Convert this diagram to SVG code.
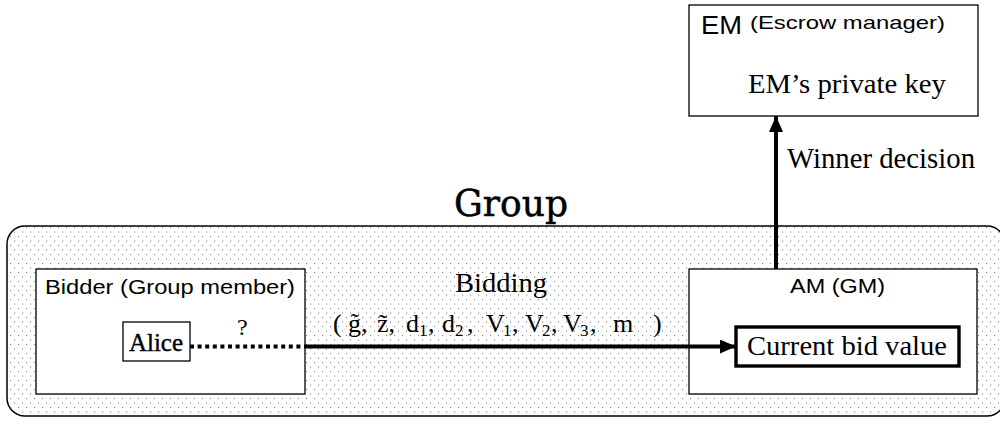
<svg xmlns="http://www.w3.org/2000/svg" width="1000" height="425" viewBox="0 0 1000 425">
  <style>
    .box { fill: #fff; stroke: #000; stroke-width: 1.3; }
    .sans { font-family: "Liberation Sans", Arial, sans-serif; fill: #000; }
    .serif { font-family: "Liberation Serif", "Times New Roman", serif; fill: #000; }
    .sub { font-size: 17px; }
    .wire { stroke: #000; stroke-width: 4; fill: none; }
  </style>
  <defs>
    <pattern id="dots" x="0" y="0" width="8" height="9" patternUnits="userSpaceOnUse">
      <rect x="2" y="2" width="1.1" height="1.1" fill="#808080"/>
      <rect x="6" y="6.5" width="1.1" height="1.1" fill="#808080"/>
    </pattern>
    <marker id="head" viewBox="0 0 16 14" refX="16" refY="7" markerWidth="16" markerHeight="14" markerUnits="userSpaceOnUse" orient="auto">
      <path d="M0,0 L16,7 L0,14 Z" fill="#000"/>
    </marker>
  </defs>

  <rect width="1000" height="425" fill="#fff"/>

  <!-- group container -->
  <g id="group">
    <rect x="7" y="226" width="998" height="190" rx="18" ry="18" fill="url(#dots)" stroke="#000" stroke-width="1.5"/>
    <text x="454" y="216" font-family="'DejaVu Serif', 'Liberation Serif', serif" font-size="37" stroke="#000" stroke-width="0.5" textLength="114" lengthAdjust="spacingAndGlyphs">Group</text>
  </g>

  <!-- bidder -->
  <g id="bidder">
    <rect class="box" x="36" y="269" width="269" height="125"/>
    <text class="sans" x="45" y="294" font-size="19.5" textLength="250" lengthAdjust="spacingAndGlyphs">Bidder (Group member)</text>
  </g>

  <g id="alice">
    <rect class="box" x="123" y="322" width="67" height="39"/>
    <text class="serif" x="129" y="351" font-size="25" stroke="#000" stroke-width="0.4" textLength="54" lengthAdjust="spacingAndGlyphs">Alice</text>
  </g>

  <!-- auction manager -->
  <g id="am">
    <rect class="box" x="689" y="269" width="288" height="125"/>
    <text class="sans" x="790" y="293" font-size="21" textLength="95" lengthAdjust="spacingAndGlyphs">AM (GM)</text>
  </g>

  <g id="bid">
    <rect x="736" y="327" width="223" height="39" fill="#fff" stroke="#000" stroke-width="3.4"/>
    <text class="serif" x="747" y="355" font-size="28" textLength="200" lengthAdjust="spacingAndGlyphs">Current bid value</text>
  </g>

  <!-- escrow manager -->
  <g id="em">
    <rect class="box" x="689" y="5" width="289" height="111"/>
    <text class="sans" x="701" y="34" font-size="25" textLength="41" lengthAdjust="spacingAndGlyphs">EM</text>
    <text class="sans" x="750" y="29" font-size="19" textLength="195" lengthAdjust="spacingAndGlyphs">(Escrow manager)</text>
    <text class="serif" x="748" y="93" font-size="28" textLength="198" lengthAdjust="spacingAndGlyphs">EM’s private key</text>
  </g>

  <!-- connectors -->
  <g id="connectors">
    <line class="wire" x1="190" y1="346.5" x2="305" y2="346.5" stroke-dasharray="4 3.6"/>
    <line class="wire" x1="305" y1="346.5" x2="736" y2="346.5" marker-end="url(#head)"/>
    <line class="wire" x1="776" y1="269" x2="776" y2="116" stroke-width="3.6" marker-end="url(#head)"/>

    <text class="serif" x="237" y="335" font-size="24">?</text>
    <text class="serif" x="455" y="292" font-size="27" textLength="92" lengthAdjust="spacingAndGlyphs">Bidding</text>
    <text class="serif" y="332" font-size="26"><tspan x="333">(</tspan><tspan x="348">g̃,</tspan><tspan x="377">z̃,</tspan><tspan x="406">d</tspan><tspan class="sub" x="419" y="336">1</tspan><tspan x="428" y="332">,</tspan><tspan x="442">d</tspan><tspan class="sub" x="455" y="336">2</tspan><tspan x="467" y="332">,</tspan><tspan x="486">V</tspan><tspan class="sub" x="503" y="336">1</tspan><tspan x="512" y="332">,</tspan><tspan x="525">V</tspan><tspan class="sub" x="542" y="336">2</tspan><tspan x="551" y="332">,</tspan><tspan x="563">V</tspan><tspan class="sub" x="580" y="336">3</tspan><tspan x="590" y="332">,</tspan><tspan x="613">m</tspan><tspan x="653">)</tspan></text>
    <text class="serif" x="787" y="168" font-size="28.5" textLength="188" lengthAdjust="spacingAndGlyphs">Winner decision</text>
  </g>
</svg>
